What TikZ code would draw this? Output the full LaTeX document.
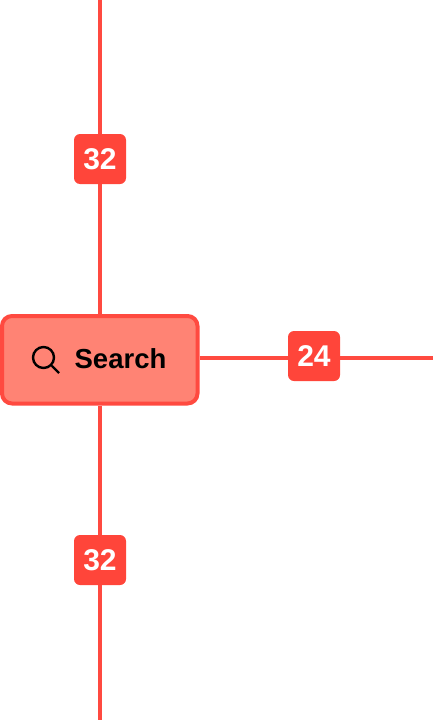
\documentclass[tikz,border=0pt]{standalone}
\usepackage{fontspec}
\setmainfont{Liberation Sans}
\definecolor{linered}{HTML}{FF4A40}
\definecolor{badgered}{HTML}{FF453A}
\definecolor{boxred}{HTML}{FF8374}

\begin{document}
\begin{tikzpicture}
    [x = 1pt, y = -1pt,
      gap/.style={draw = linered, line width = 4pt},
      badge/.style={rectangle, rounded corners = 6pt, fill = badgered, text = white,
        minimum width = 52pt, minimum height = 50pt, inner sep = 0pt,
        font = \fontsize{30}{30}\selectfont\bfseries},
      searchbox/.style={rectangle, rounded corners = 10pt, draw = linered, fill = boxred,
        line width = 4pt, minimum width = 195.5pt, minimum height = 87.5pt, inner sep = 0pt},
      lens/.style={circle, draw = black, line width = 2.4pt, minimum size = 21pt, inner sep = 0pt}]
    \useasboundingbox (0,0) rectangle (433,720);
    \node[searchbox] (box) at (99.75,359.75) {};
    \node[lens] (glass) at (43.5,357.5) {};
    \coordinate (handle) at (59,373);
    \node[font = \fontsize{27.5}{27.5}\selectfont\bfseries] (label) at (120.5,358.5) {Search};
    \node[badge] (top) at (100,159) {32};
    \node[badge] (right) at (314,356) {24};
    \node[badge] (bottom) at (100,560) {32};
    \coordinate (topend) at (100,0);
    \coordinate (rightend) at (433,358);
    \coordinate (bottomend) at (100,720);
    \draw[gap] (topend) -- (top);
    \draw[gap] (top) -- (box.north -| top);
    \draw[gap] (box.south -| bottom) -- (bottom);
    \draw[gap] (bottom) -- (bottomend);
    \draw[gap] (box.east |- rightend) -- (right.west |- rightend);
    \draw[gap] (right.east |- rightend) -- (rightend);
    \draw[line width = 2.4pt] (glass.-45) -- (handle);
  \end{tikzpicture}
\end{document}
